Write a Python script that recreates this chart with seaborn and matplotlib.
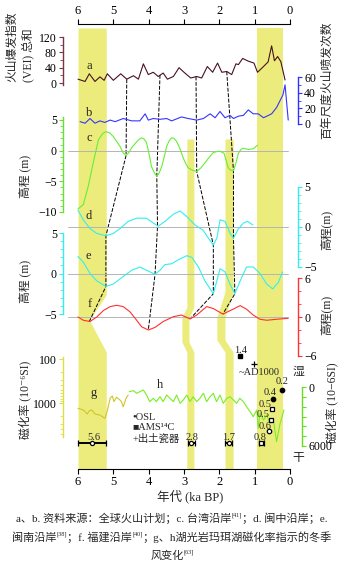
import numpy as np
import matplotlib
matplotlib.use('Agg')
import matplotlib.pyplot as plt
import seaborn as sns

sns.set_theme(style='ticks')
plt.rcParams['font.family'] = ['Liberation Serif', 'Noto Sans CJK SC', 'DejaVu Sans']
plt.rcParams['axes.unicode_minus'] = True

# ---------------- data ----------------
age_a = [6.0,5.8,5.68,5.52,5.38,5.26,5.17,5.0,4.79,4.62,4.43,4.29,4.15,4.01,3.87,3.73,3.59,3.47,3.30,3.14,
         3.0,2.81,2.64,2.50,2.34,2.19,2.05,1.93,1.79,1.65,1.53,1.46,1.34,1.18,1.02,0.92,0.76,0.62,0.52,0.44,
         0.35,0.26,0.14]
vei_a = [10,4,24,4,16,7,24,7,24,10,19,10,50,22,28,17,26,10,17,40,
         28,13,17,13,43,28,52,28,30,22,50,48,64,57,52,28,42,55,97,58,
         69,56,8]

age_b = [5.94,5.80,5.66,5.52,5.38,5.24,5.09,4.95,4.72,4.48,4.25,4.10,4.01,3.87,3.68,3.49,3.35,3.07,2.88,2.64,
         2.45,2.26,2.12,1.98,1.84,1.70,1.60,1.46,1.32,1.18,1.04,0.90,0.75,0.61,0.52,0.38,0.28,0.20,0.14,0.05]
cnt_b = [3,1,7,1,4,2,5,3,7,4,4,13,5,7,6,7,4,9,7,5,
         7,13,8,16,8,11,7,10,11,18,13,13,8,11,13,21,30,37,50,5]

age_c = [6.0,5.85,5.71,5.57,5.42,5.30,5.21,5.1,5.0,4.81,4.72,4.64,4.56,4.48,4.3,4.2,4.13,4.06,3.99,3.92,3.84,3.77,3.70,
         3.63,3.56,3.49,3.42,3.35,3.28,3.21,3.12,3.04,2.96,2.88,2.76,2.64,2.52,2.41,2.29,2.17,2.07,1.98,1.87,1.81,
         1.75,1.67,1.60,1.53,1.46,1.39,1.32,1.18,1.04,0.92]
elev_c = [-9.5,-8.8,-5.8,-2.0,1.8,2.8,3.1,2.9,2.3,0.7,-0.4,-0.8,-0.3,0.5,1.7,2.1,1.9,1.3,-0.5,-2.6,-3.6,-4.2,-3.6,
          -2.6,-1.0,0.7,1.6,2.1,2.0,1.5,0.4,-0.9,-2.0,-2.8,-3.2,-3.4,-2.8,-2.0,-1.1,-0.3,-0.15,-0.1,-0.4,-1.5,
          -2.8,-3.2,-3.3,-2.0,-0.4,0.2,0.4,0.2,0.3,0.9]

age_d = [6.0,5.85,5.66,5.47,5.21,5.0,4.81,4.58,4.34,4.06,3.87,3.73,3.54,3.30,3.11,2.92,2.69,2.46,2.31,2.17,
         2.07,1.98,1.84,1.70,1.60,1.47,1.32,1.20,1.05]
elev_d = [2.1,0.9,-0.2,-0.8,-1.1,-0.8,-0.2,0.7,1.1,1.1,0.5,0.1,0.7,1.6,2.0,1.3,0.25,-0.4,-1.4,-2.25,
          -1.4,0.9,0.7,-0.75,-1.4,-0.3,0.5,0.7,0.25]

age_e = [6.0,5.85,5.66,5.47,5.21,5.0,4.76,4.48,4.25,4.06,3.82,3.68,3.54,3.35,3.16,2.92,2.78,2.59,2.41,2.26,
         2.17,2.07,1.98,1.84,1.70,1.56,1.41,1.23,1.04,0.85,0.66,0.49,0.33,0.21]
elev_e = [2.1,1.4,0,-0.9,-1.6,-1.3,-0.5,0.4,0.8,0.4,-0.1,0.4,1.1,1.2,1.7,2.2,2.0,0.8,-0.9,-1.9,
          -2.5,-0.9,0.6,0.2,-1.3,-2.5,-0.9,0.8,0.8,0,-1.3,-1.9,-1.1,0.2]

age_f = [6.0,5.85,5.66,5.47,5.28,5.09,4.91,4.72,4.53,4.34,4.20,4.01,3.82,3.59,3.30,3.07,2.83,2.64,2.36,2.17,
         1.90,1.65,1.41,1.23,1.04,0.85,0.66,0.38,0.05]
elev_f = [0,-0.5,-0.7,0,1.0,1.6,1.8,1.6,0.8,-0.5,-1.5,-2.0,-1.6,-0.7,0.05,0.3,-0.3,0.3,1.6,1.3,
          0.45,1.1,1.75,1.2,0.3,-0.35,-0.5,-0.35,-0.2]

age_g = [6.0,5.85,5.74,5.68,5.61,5.52,5.38,5.24,5.17,5.09,5.03,4.98,4.91,4.83,4.77,4.72,4.64,4.58]
ms_g = [1320,1440,1780,1500,1440,1780,1880,2230,1500,780,690,930,740,830,930,1220,780,660]

age_h = [4.55,4.43,4.34,4.25,4.15,4.06,3.97,3.87,3.78,3.68,3.59,3.49,3.40,3.30,3.21,3.11,3.02,2.92,2.83,2.74,
         2.64,2.55,2.45,2.36,2.26,2.17,2.08,1.98,1.89,1.79,1.70,1.60,1.51,1.42,1.32,1.23,1.13,1.04,0.94,0.90,
         0.85,0.75,0.66,0.57,0.47,0.38,0.28,0.17]
ms_h = [475,370,640,475,305,815,1490,1150,1490,985,1490,815,1150,1490,815,1660,1320,815,1490,985,
        1490,1150,640,1490,985,640,1490,815,1660,1150,985,1320,1660,1150,1490,2000,2510,3020,2340,4200,
        2680,3360,2850,3700,3360,5560,3700,2340]

# highlighted intervals (ka) with their kinks (row positions in px of the plot frame)
band1_rows = [28, 295, 320, 352, 469]; band1_old = [6.0]*5; band1_young = [5.2, 5.2, 5.68, 5.2, 5.2]
band2_rows = [139, 307, 318, 342, 352, 469]; band2_old = [2.92, 2.92, 3.06, 3.06, 2.92, 2.92]; band2_young = [2.72, 2.72, 2.86, 2.86, 2.72, 2.72]
band3_rows = [139, 292, 317, 340, 352, 469]; band3_old = [1.84, 1.84, 2.07, 2.07, 1.84, 1.84]; band3_young = [1.61, 1.61, 1.84, 1.84, 1.61, 1.61]
band4_rows = [28, 469]; band4_old = [0.93, 0.93]; band4_young = [0.2, 0.2]

# correlation tie points: (panel, age, value)
ties = [
    [('a', 4.62, 10), ('c', 4.64, -0.8), ('d', 5.21, -1.1), ('e', 5.21, -1.6), ('f', 5.68, -0.7)],
    [('a', 3.68, 21), ('c', 3.77, -4.2), ('d', 3.75, 0.1), ('e', 3.82, -0.1), ('f', 4.01, -2.0)],
    [('a', 2.66, 17), ('c', 2.64, -3.4), ('d', 2.17, -2.25), ('e', 2.17, -2.5), ('f', 2.83, -0.3)],
    [('a', 1.79, 30), ('c', 1.60, -3.3), ('d', 1.60, -1.4), ('e', 1.56, -2.5), ('f', 1.90, 0.45)],
]

# dated samples
bar_age = [5.6, 2.8, 1.73, 0.82]; bar_err = [0.4, 0.1, 0.1, 0.07]; bar_lab = ['5.6', '2.8', '1.7', '0.8']
bar_lab_age = [5.55, 2.77, 1.73, 0.85]; bar_mk = ['o', 'o', 'o', 's']
pt_age = [0.23, 0.48, 0.51, 0.54, 0.59]; pt_val = [305, 1220, 2240, 3360, 4470]
pt_mk = ['o', 'o', 's', 's', 'o']; pt_fill = [True, True, False, False, False]
pt_lab = ['0.2', '0.4', '0.5', '0.5', '0.6']
pt_lab_age = [0.23, 0.57, 0.71, 0.75, 0.71]; pt_lab_val = [-510, 510, 1830, 2750, 3970]

# ---------------- layout helpers ----------------
W, H = 345, 568
fig = plt.figure(figsize=(W / 100, H / 100), dpi=100)
X0, X1 = 78, 290

def fy(px):
    return 1 - px / H

bg = fig.add_axes([X0 / W, fy(469), (X1 - X0) / W, (469 - 24) / H], zorder=0)
bg.set_xlim(6, 0)
bg.set_ylim(469, 24)
for s in ['left', 'right']:
    bg.spines[s].set_visible(False)
for s in ['top', 'bottom']:
    bg.spines[s].set_linewidth(0.8)
    bg.spines[s].set_color('black')
bg.set_yticks([])
bg.set_xticks(range(0, 7))
bg.set_xticklabels([str(i) for i in range(0, 7)])
bg.tick_params(axis='x', top=True, bottom=True, labeltop=True, labelbottom=True,
               direction='out', length=3.5, width=0.8, pad=1.5, labelsize=9, colors='black')

band_col = '#ecec7c'
for rows, old, young in [(band1_rows, band1_old, band1_young), (band2_rows, band2_old, band2_young),
                         (band3_rows, band3_old, band3_young), (band4_rows, band4_old, band4_young)]:
    bg.fill_betweenx(rows, old, young, color=band_col, lw=0, zorder=0)

def panel(top_px, bot_px, cal1, cal2, log=False, z=2):
    ax = fig.add_axes([X0 / W, fy(bot_px), (X1 - X0) / W, (bot_px - top_px) / H], zorder=z)
    (v1, p1), (v2, p2) = cal1, cal2
    if log:
        v1, v2 = np.log10(v1), np.log10(v2)
    k = (v2 - v1) / (p2 - p1)
    vt = v1 + k * (top_px - p1)
    vb = v1 + k * (bot_px - p1)
    if log:
        vt, vb = 10 ** vt, 10 ** vb
        ax.set_yscale('log')
    ax.set_xlim(6, 0)
    ax.set_ylim(vb, vt)
    ax.patch.set_visible(False)
    for s in ax.spines.values():
        s.set_visible(False)
    ax.set_xticks([])
    ax.tick_params(axis='x', bottom=False, top=False, labelbottom=False)
    return ax

def spine(ax, side, color, off_px, bounds, major, minor, labels=None, size=8.5):
    sp = ax.spines[side]
    sp.set_visible(True)
    sp.set_color(color)
    sp.set_linewidth(1.0)
    sp.set_position(('outward', off_px * 0.72))
    sp.set_bounds(*bounds)
    ax.yaxis.set_ticks_position(side)
    ax.set_yticks(major)
    if labels is not None:
        ax.set_yticklabels(labels)
    ax.set_yticks(minor, minor=True)
    ax.yaxis.set_minor_formatter(matplotlib.ticker.NullFormatter())
    ax.tick_params(axis='y', which='both', colors=color, labelcolor='black', direction='out', labelsize=size, pad=1.5)
    ax.tick_params(axis='y', which='major', length=3, width=0.8)
    ax.tick_params(axis='y', which='minor', length=2, width=0.6)

def zero_line(ax):
    ax.axhline(0, xmin=-0.047, xmax=0.99, color='#b4b4b4', lw=0.7, clip_on=False, zorder=1)

def curve(ax, x, y, color, lw=0.8):
    sns.lineplot(x=x, y=y, ax=ax, color=color, lw=lw, sort=False, estimator=None, legend=False)
    for ln in ax.lines:
        ln.set_clip_on(False)

txt_kw = dict(fontsize=9, ha='center', va='center')

# a
ax_a = panel(37, 85, (0, 83), (120, 37))
spine(ax_a, 'left', '#7a3444', 15, (-5, 120), [0, 40, 80, 120], [20, 60, 100])
curve(ax_a, age_a, vei_a, '#4a1020')
ax_a.text(5.69, 44, 'a', **txt_kw)

# b
ax_b = panel(76, 126, (0, 124), (60, 77))
spine(ax_b, 'right', '#3030ff', 8, (0, 60), [0, 20, 40, 60], [10, 30, 50])
curve(ax_b, age_b, cnt_b, '#3535ff')
ax_b.text(5.69, 14, 'b', **txt_kw)

# c
ax_c = panel(117, 213, (5, 120), (-10, 212))
spine(ax_c, 'left', '#66e033', 15, (-10, 5.5), [-10, -5, 0, 5], [v for v in range(-9, 6) if v % 5 != 0])
zero_line(ax_c)
curve(ax_c, age_c, elev_c, '#66ee33')
ax_c.text(5.69, 2.1, 'c', **txt_kw)

# d
ax_d = panel(186, 270, (5, 187), (-5, 267))
spine(ax_d, 'right', '#33eeee', 8, (-5, 5), [-5, 0, 5], [v for v in range(-4, 5) if v != 0])
zero_line(ax_d)
curve(ax_d, age_d, elev_d, '#33eeee')
ax_d.text(5.69, 1.4, 'd', **txt_kw)

# e
ax_e = panel(231, 316, (5, 233), (-5, 314))
spine(ax_e, 'left', '#33eeee', 15, (-5, 5), [-5, 0, 5], [v for v in range(-4, 5) if v != 0])
zero_line(ax_e)
curve(ax_e, age_e, elev_e, '#33eeee')
ax_e.text(5.72, 2.1, 'e', **txt_kw)

# f
ax_f = panel(277, 358, (6, 278), (-6, 356))
spine(ax_f, 'right', '#ff3333', 8, (-6, 6), [-6, 0, 6], [-4, -2, 2, 4])
zero_line(ax_f)
curve(ax_f, age_f, elev_f, '#ff3030')
ax_f.text(5.66, 2.0, 'f', **txt_kw)

# g (log, left)
ax_g = panel(340, 469, (100, 359), (1000, 403), log=True, z=3)
spine(ax_g, 'left', '#dede44', 15, (90, 5900), [100, 1000],
      [200, 300, 400, 500, 600, 700, 800, 900, 2000, 3000, 4000, 5000], labels=['100', '1000'])
curve(ax_g, age_g, ms_g, '#d2c42a')
ax_g.text(5.57, 590, 'g', **txt_kw)

# h (linear, right)
ax_h = panel(340, 469, (0, 387), (6000, 446), z=4)
spine(ax_h, 'right', '#66dd22', 12, (0, 6000), list(range(0, 7000, 1000)), [],
      labels=['0', '', '', '', '', '', '6000'])
ax_h.tick_params(axis='y', which='major', length=3)
curve(ax_h, age_h, ms_h, '#77ee22')
ax_h.text(3.68, -200, 'h', **txt_kw)

# dated samples
small = 7.5
for a, e, la, lab, mk in zip(bar_age, bar_err, bar_lab_age, bar_lab, bar_mk):
    ax_h.errorbar([a], [5700], xerr=[e], fmt=mk, color='black', ms=3, mfc='white', mec='black',
                  mew=0.9, elinewidth=1.4, capsize=2, capthick=1.0, clip_on=False, zorder=5)
    ax_h.text(la, 5100, lab, fontsize=small, ha='center', va='center', zorder=6)
for a, v, mk, fill in zip(pt_age, pt_val, pt_mk, pt_fill):
    ax_h.plot([a], [v], marker=mk, ms=3.2, color='black', mfc='black' if fill else 'white', mec='black',
              mew=0.9, ls='none', clip_on=False, zorder=6)
for la, lv, lab in zip(pt_lab_age, pt_lab_val, pt_lab):
    ax_h.text(la, lv, lab, fontsize=small, ha='center', va='center', zorder=5)
ax_h.plot([1.42], [-3150], marker='s', ms=3, color='black', ls='none', clip_on=False, zorder=6)
ax_h.text(1.40, -3750, '1.4', fontsize=small, ha='center', va='center')
ax_h.plot([1.02], [-2300], marker='+', ms=4, mew=0.9, color='black', ls='none', clip_on=False, zorder=6)
ax_h.text(0.88, -1450, '~AD1000', fontsize=small, ha='center', va='center')
ax_h.text(4.47, 3150, '•OSL', fontsize=small, ha='left', va='center')
ax_h.text(4.47, 4120, '■AMS¹⁴C', fontsize=small, ha='left', va='center')
ax_h.text(4.47, 5250, '+出土瓷器', fontsize=small, ha='left', va='center')

# correlation (dashed) lines
axes_map = {'a': ax_a, 'c': ax_c, 'd': ax_d, 'e': ax_e, 'f': ax_f}
inv = bg.transData.inverted()
for tie in ties:
    pts = [inv.transform(axes_map[p].transData.transform((x, v))) for p, x, v in tie]
    pts = np.array(pts)
    bg.plot(pts[:, 0], pts[:, 1], color='black', lw=0.7, ls=(0, (4, 1.6)), zorder=1)

# axis titles (pixel positions)
def ftext(x, y, s, **kw):
    fig.text(x / W, fy(y), s, **kw)

lab_kw = dict(fontsize=8.5, rotation=90, ha='center', va='center')
ftext(20, 47, '火山爆发指数\n(VEI) 总和', multialignment='left', linespacing=1.3, **lab_kw)
ftext(327, 80, '百年尺度火山喷发次数', **lab_kw)
ftext(25, 176, '高程 (m)', **lab_kw)
ftext(326, 230, '高程(m)', **lab_kw)
ftext(25, 281, '高程 (m)', **lab_kw)
ftext(326, 315, '高程(m)', **lab_kw)
ftext(25, 400, '磁化率 (10⁻⁶SI)', **lab_kw)
ftext(332, 403, '磁化率 (10−6SI)', **lab_kw)
ftext(298, 372, '湿', fontsize=8.5, ha='center', va='center')
ftext(298, 458, '干', fontsize=8.5, ha='center', va='center')
ftext(190, 496, '年代 (ka BP)', fontsize=9, ha='center', va='center')

# caption with superscript references
renderer = fig.canvas.get_renderer()
def rich_line(pieces, y_px, cx_px=172, size=8.0):
    items = []
    for t, sup in pieces:
        fs = size * 0.55 if sup else size
        tx = fig.text(0, 0, t, fontsize=fs, ha='left', va='baseline')
        items.append((tx, sup, tx.get_window_extent(renderer).width))
    total = sum(w for _, _, w in items)
    x = cx_px - total / 2
    for tx, sup, w in items:
        yy = y_px - (size * 0.5 * 100 / 72 if sup else 0)
        tx.set_position((x / W, fy(yy)))
        x += w

rich_line([('a、b. 资料来源：全球火山计划；c. 台湾沿岸', False), ('[41]', True), ('；d. 闽中沿岸；e.', False)], 522)
rich_line([('闽南沿岸', False), ('[38]', True), ('；f. 福建沿岸', False), ('[40]', True),
           ('；g、h湖光岩玛珥湖磁化率指示的冬季', False)], 541)
rich_line([('风变化', False), ('[63]', True)], 559)

fig.savefig('out.png', dpi=100)
